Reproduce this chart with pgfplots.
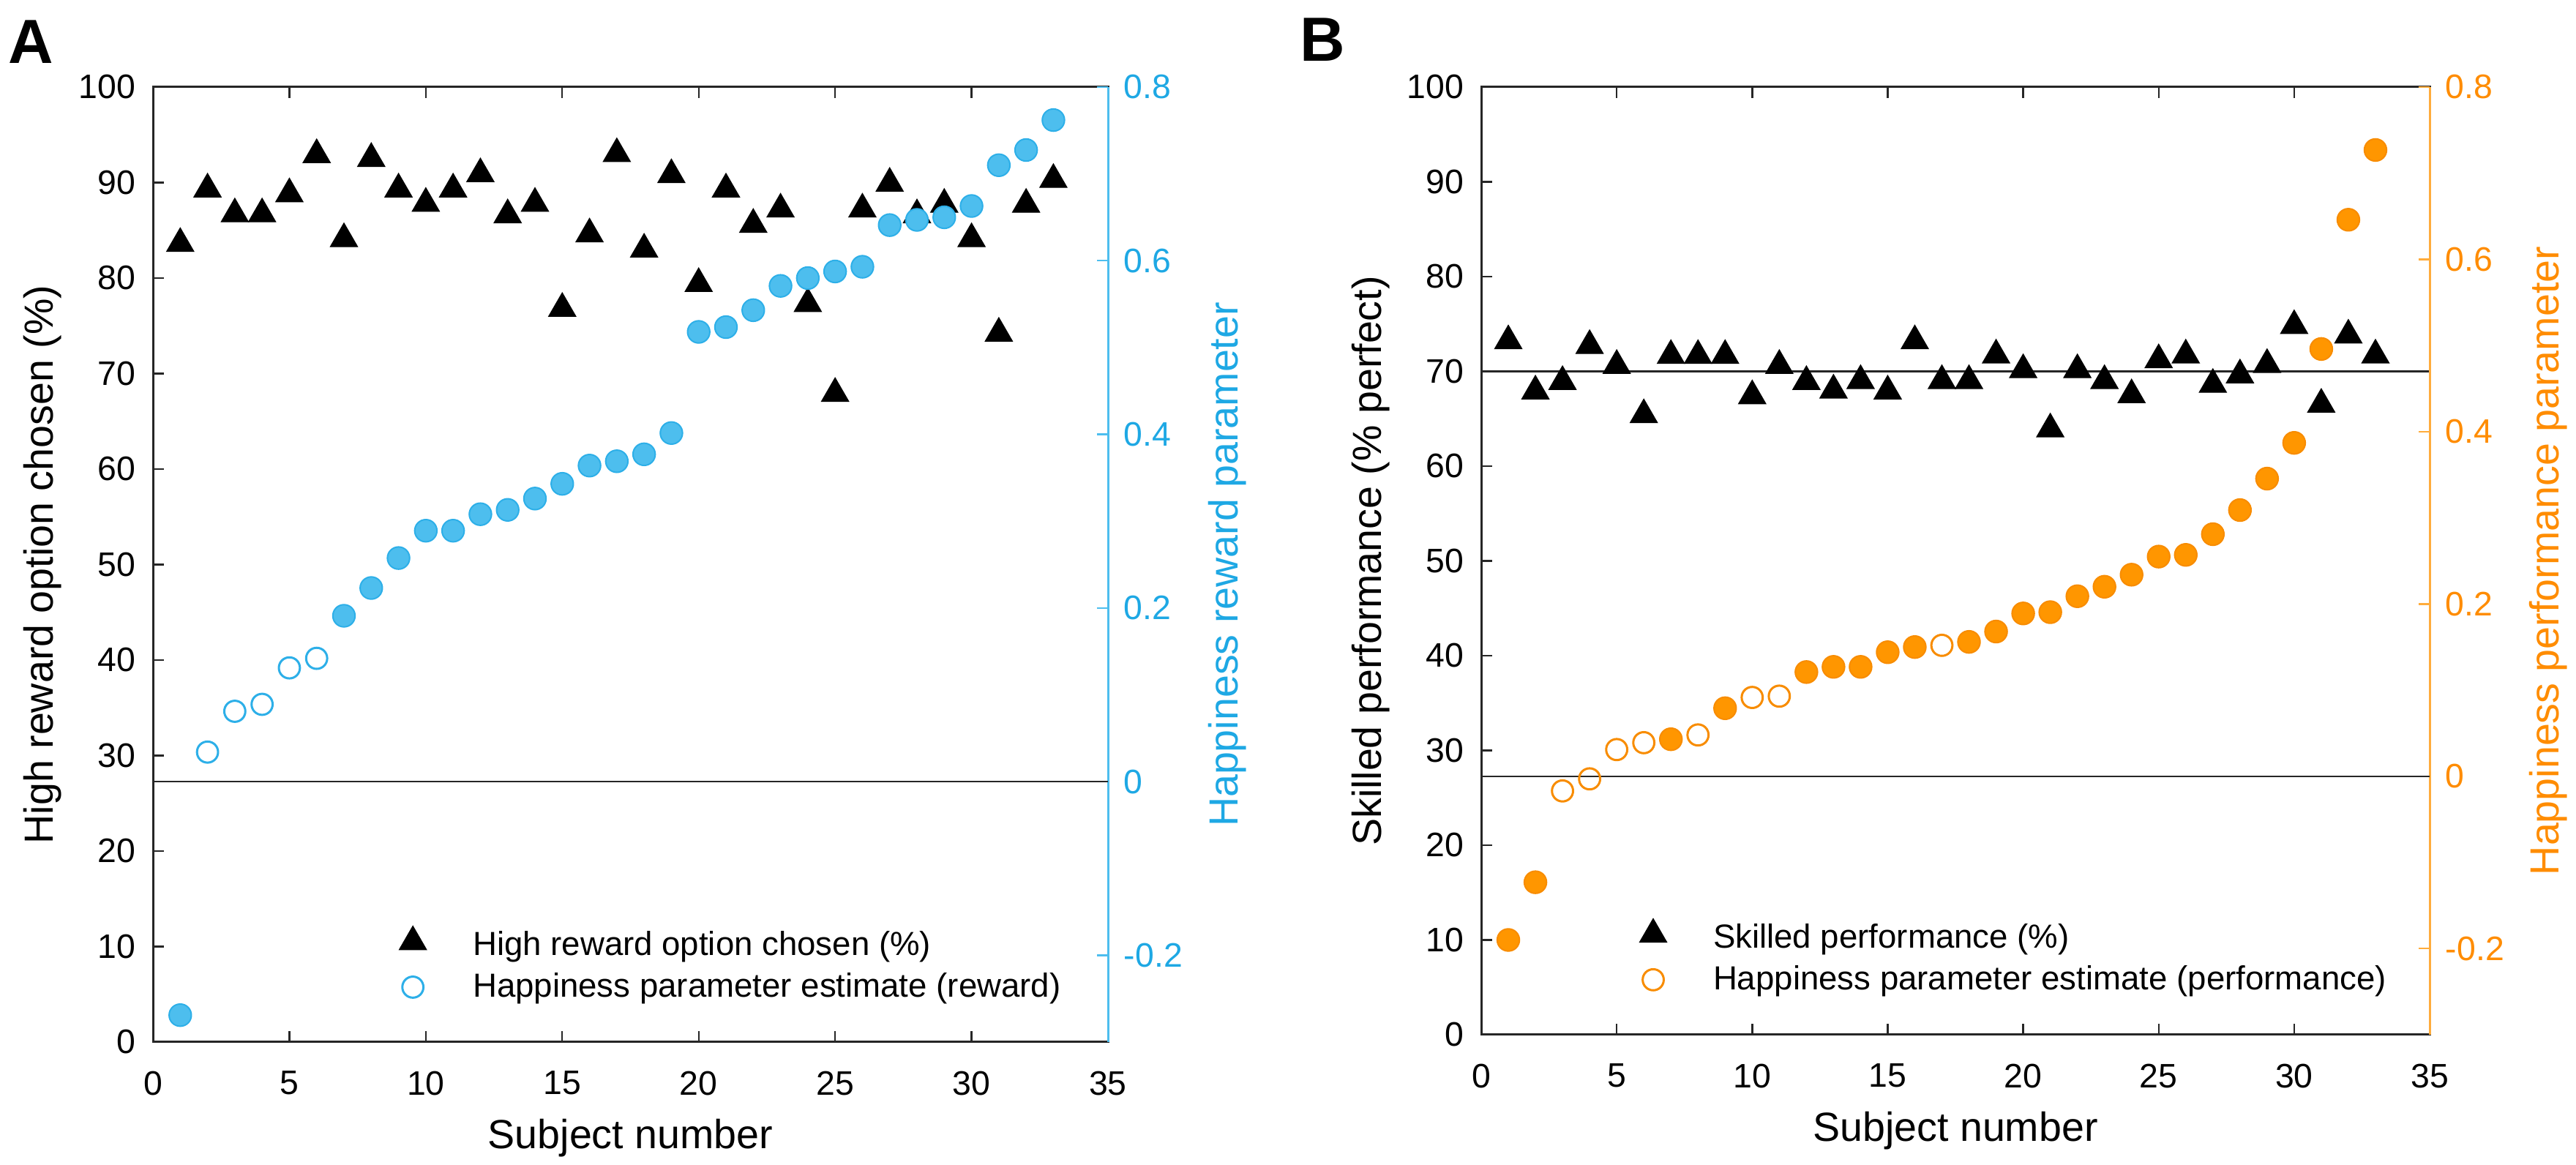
\documentclass[border=0pt]{standalone}
\usepackage{pgfplots}
\pgfplotsset{compat=1.18}
\usepackage{fontspec}
\setmainfont{Liberation Sans}

\definecolor{cblue}{RGB}{77,190,238}
\definecolor{cblueedge}{RGB}{45,175,232}
\definecolor{cbluetext}{RGB}{30,168,228}
\definecolor{corange}{RGB}{255,150,0}
\definecolor{corangeedge}{RGB}{248,140,0}
\definecolor{corangetext}{RGB}{255,140,0}
\definecolor{corangeaxis}{RGB}{255,172,60}
\definecolor{axgray}{RGB}{38,38,38}

\pgfplotsset{
  base/.style={
    scale only axis,
    xmin=0, xmax=35,
    tick align=inside,
    major tick length=3.8pt,
    axis line style={line width=0.75pt, draw=axgray},
    tick label style={font=\fontsize{11.6}{13}\selectfont},
    label style={font=\fontsize{13.9}{16}\selectfont},
    /pgf/number format/assume math mode=true,
    scaled ticks=false,
  },
  leftax/.style={
    ymin=0, ymax=100,
    ytick={0,10,...,100},
    xtick={0,5,...,35},
    xtick pos=both,
    ytick pos=left,
    xticklabel pos=bottom,
    every tick/.style={line width=0.6pt, axgray},
    xticklabel style={yshift=-6.4pt},
    yticklabel style={xshift=-2.4pt},
    xlabel={Subject number},
    xlabel style={at={(axis description cs:0.5,0)}, anchor=base, yshift=-36.5pt},
    legend cell align=left,
    legend image code/.code={\path[draw=none,fill=none] (0cm,0cm) -- (0.95cm,0cm);
      \draw[mark repeat=2,mark phase=2,##1,only marks] plot coordinates {(0cm,0cm) (0.3cm,0cm) (0.95cm,0cm)};},
  },
  rightax/.style={
    axis y line*=right,
    axis x line=none,
    ymin=-0.3, ymax=0.8,
    ytick={-0.2,0,0.2,0.4,0.6,0.8},
    yticklabels={-0.2,0,0.2,0.4,0.6,0.8},
    yticklabel style={xshift=1.95pt},
  },
  tri/.style={only marks, mark=triangle*, mark size=5.35pt,
    mark options={fill=black, draw=black, line width=0.3pt, yshift=1.34pt}},
}

\begin{document}
\begin{tikzpicture}
\path[use as bounding box] (0,0) rectangle (880pt,398pt);
\node[anchor=base west, inner sep=0pt, font=\bfseries\fontsize{21.3}{24}\selectfont] at (2.75pt,376.25pt) {A};
\node[anchor=base west, inner sep=0pt, font=\bfseries\fontsize{21.3}{24}\selectfont] at (444pt,377pt) {B};

% ---------------- Panel A, left axis ----------------
\begin{axis}[base, leftax,
  at={(52.25pt,42pt)}, width=326.25pt, height=326.25pt,
  ylabel={High reward option chosen (\%)},
  ylabel style={at={(axis description cs:-0.1157,0.5)}, anchor=center},
  legend style={at={(axis description cs:0.246,0.122)}, anchor=north west,
    draw=none, fill=none, inner sep=0pt, outer sep=0pt, row sep=0.4pt,
    font=\fontsize{11.4}{13}\selectfont},
]
\addplot[tri] table {
x y
1 83.2
2 88.9
3 86.3
4 86.3
5 88.4
6 92.5
7 83.7
8 92.1
9 88.9
10 87.4
11 88.9
12 90.5
13 86.2
14 87.4
15 76.4
16 84.2
17 92.6
18 82.6
19 90.4
20 79.0
21 88.9
22 85.2
23 86.8
24 76.9
25 67.5
26 86.8
27 89.5
28 86.2
29 87.3
30 83.7
31 73.8
32 87.3
33 89.9
};
\addlegendentry{High reward option chosen (\%)}
\addlegendimage{only marks, mark=o, mark size=3.6pt, mark options={draw=cblueedge, line width=0.75pt, fill=white}}
\addlegendentry{Happiness parameter estimate (reward)}
\end{axis}

% ---------------- Panel A, right axis ----------------
\begin{axis}[base, rightax,
  at={(52.25pt,42pt)}, width=326.25pt, height=326.25pt,
  y axis line style={draw=cblue, line width=0.75pt},
  ytick style={draw=cblue, line width=0.6pt},
  yticklabel style={text=cbluetext},
  ylabel={Happiness reward parameter},
  ylabel style={at={(axis description cs:1.1249,0.5)}, anchor=center, text=cbluetext},
]
\addplot[black!85, line width=0.6pt, forget plot] coordinates {(0,0) (35,0)};
\addplot[only marks, mark=*, mark size=3.8pt, mark options={fill=cblue, draw=cblueedge, line width=0.5pt}] table {
x y
1 -0.269
7 0.191
8 0.223
9 0.2575
10 0.289
11 0.289
12 0.308
13 0.313
14 0.326
15 0.343
16 0.364
17 0.369
18 0.377
19 0.4015
20 0.518
21 0.5235
22 0.543
23 0.571
24 0.580
25 0.5876
26 0.593
27 0.641
28 0.647
29 0.650
30 0.663
31 0.710
32 0.7275
33 0.762
};
\addplot[only marks, mark=o, mark size=3.6pt, mark options={draw=cblueedge, line width=0.75pt, fill=white}] table {
x y
2 0.034
3 0.081
4 0.089
5 0.131
6 0.142
};
\end{axis}

% ---------------- Panel B, left axis ----------------
\begin{axis}[base, leftax,
  at={(506pt,44.5pt)}, width=324pt, height=323.75pt,
  ylabel={Skilled performance (\% perfect)},
  ylabel style={at={(axis description cs:-0.1165,0.5)}, anchor=center},
  legend style={at={(axis description cs:0.155,0.123)}, anchor=north west,
    draw=none, fill=none, inner sep=0pt, outer sep=0pt, row sep=0.4pt,
    font=\fontsize{11.4}{13}\selectfont},
]
\addplot[black!85, line width=0.6pt, forget plot] coordinates {(0,70) (35,70)};
\addplot[tri] table {
x y
1 72.8
2 67.5
3 68.5
4 72.3
5 70.2
6 65.0
7 71.25
8 71.25
9 71.25
10 67.0
11 70.2
12 68.5
13 67.6
14 68.6
15 67.5
16 72.8
17 68.6
18 68.6
19 71.3
20 69.75
21 63.5
22 69.75
23 68.6
24 67.1
25 70.8
26 71.3
27 68.2
28 69.2
29 70.3
30 74.4
31 66.1
32 73.4
33 71.3
};
\addlegendentry{Skilled performance (\%)}
\addlegendimage{only marks, mark=o, mark size=3.6pt, mark options={draw=corangeedge, line width=0.75pt, fill=white}}
\addlegendentry{Happiness parameter estimate (performance)}
\end{axis}

% ---------------- Panel B, right axis ----------------
\begin{axis}[base, rightax,
  at={(506pt,44.5pt)}, width=324pt, height=323.75pt,
  y axis line style={draw=corangeaxis, line width=0.75pt},
  ytick style={draw=corangeaxis, line width=0.6pt},
  yticklabel style={text=corangetext},
  ylabel={Happiness performance parameter},
  ylabel style={at={(axis description cs:1.125,0.5)}, anchor=center, text=corangetext},
]
\addplot[black!85, line width=0.6pt, forget plot] coordinates {(0,0) (35,0)};
\addplot[only marks, mark=*, mark size=3.8pt, mark options={fill=corange, draw=corangeedge, line width=0.5pt}] table {
x y
1 -0.190
2 -0.123
7 0.043
9 0.079
12 0.121
13 0.127
14 0.127
15 0.144
16 0.150
18 0.156
19 0.168
20 0.189
21 0.1905
22 0.209
23 0.220
24 0.234
25 0.255
26 0.257
27 0.281
28 0.309
29 0.3455
30 0.387
31 0.496
32 0.646
33 0.727
};
\addplot[only marks, mark=o, mark size=3.6pt, mark options={draw=corangeedge, line width=0.75pt, fill=white}] table {
x y
3 -0.017
4 -0.003
5 0.031
6 0.039
8 0.048
10 0.0915
11 0.093
17 0.152
};
\end{axis}
\end{tikzpicture}
\end{document}
